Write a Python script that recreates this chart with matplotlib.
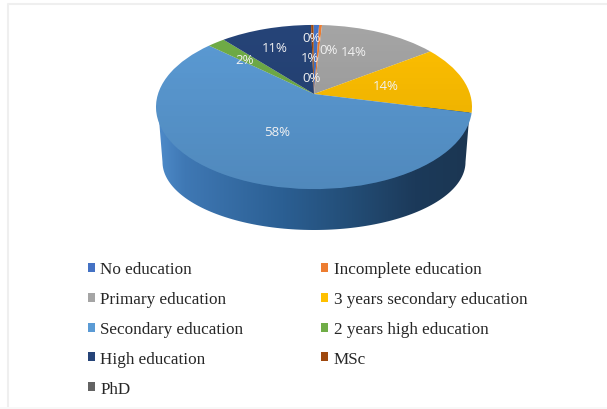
import numpy as np
import matplotlib
matplotlib.use("Agg")
import matplotlib.pyplot as plt
from matplotlib.path import Path
from matplotlib.patches import PathPatch
from matplotlib.transforms import Transform
from matplotlib.colors import LinearSegmentedColormap

categories = ["No education", "Incomplete education", "Primary education",
              "3 years secondary education", "Secondary education",
              "2 years high education", "High education", "MSc", "PhD"]
values = [0.6, 0.35, 14.2, 13.5, 58.0, 2.1, 10.9, 0.3, 0.05]
shown = [1, 0, 14, 14, 58, 2, 11, 0, 0]
colors = ["#4472c4", "#ed7d31", "#a5a5a5", "#ffc000", "#5b9bd5",
          "#70ad47", "#264478", "#9e480e", "#636363"]

W, H = 607, 410
CX, CY = 314.0, 95.0      # apex of the pie on the picture
RX, K, P = 156.0, 80.0, 0.1585   # perspective of the tilted disc


class Tilt(Transform):
    input_dims = output_dims = 2
    is_separable = False
    has_inverse = False

    def transform_non_affine(self, xy):
        xy = np.asarray(xy, float)
        d = 1 + P * xy[:, 1]
        return np.column_stack([CX + RX * xy[:, 0] / d, CY - K * xy[:, 1] / d])


fig = plt.figure(figsize=(W / 100, H / 100), dpi=100, facecolor="white")
ax = fig.add_axes([0, 0, 1, 1])

wedges, _ = ax.pie(values, colors=colors, startangle=90, counterclock=False,
                   wedgeprops=dict(linewidth=0))
ax.set_aspect("auto")
ax.set_xlim(0, W)
ax.set_ylim(H, 0)
ax.axis("off")
tilt = Tilt()
for w in wedges:
    w.set_transform(tilt + ax.transData)
    w.set_zorder(3)

# frame
ax.plot([7.5, 7.5, W], [H, 4.5, 4.5], color="#efefef", lw=1.5, zorder=0)
ax.axhspan(408, 410, color="#f8f8f8", lw=0, zorder=0)

# side wall of the disc, a horizontal gradient clipped to the rim
t = np.linspace(np.pi, 2 * np.pi, 120)
low_x = CX + 151.5 * np.cos(t)
low_y = 163 - 68 * np.sin(t)
wall = np.vstack([[[158, 108], [470, 108]],
                  np.column_stack([low_x, low_y])[::-1],
                  [[158, 108]]])
cmap = LinearSegmentedColormap.from_list(
    "wall", [(0, "#4f8ccb"), (0.09, "#3f78b4"), (0.4, "#2b5f93"),
             (0.62, "#234d76"), (0.82, "#1c3a5a"), (1, "#1b3652")])
img = ax.imshow(np.linspace(0, 1, 256)[None, :], cmap=cmap, aspect="auto",
                extent=(156, 472, 235, 100), zorder=1, interpolation="bilinear")
clip = PathPatch(Path(wall), transform=ax.transData, fc="none", ec="none")
ax.add_patch(clip)
img.set_clip_path(clip)

# soft top-to-bottom shading over the disc
shade = np.zeros((256, 1, 4))
shade[:, 0, 3] = np.linspace(0.0, 0.12, 256)
shade_img = ax.imshow(shade, aspect="auto", extent=(150, 480, 192, 24), zorder=4)
tt = np.linspace(0, 2 * np.pi, 240)
disc = tilt.transform(np.column_stack([np.cos(tt), np.sin(tt)]))
disc_clip = PathPatch(Path(disc), transform=ax.transData, fc="none", ec="none")
ax.add_patch(disc_clip)
shade_img.set_clip_path(disc_clip)
ax.set_xlim(0, W)
ax.set_ylim(H, 0)

# data labels, placed by hand as in the reference
spots = [(310, 58), (329, 50), (354, 52), (386, 86), (277, 133),
         (245, 60), (275, 48), (312, 39), (312, 78)]
for (x, y), v in zip(spots, shown):
    ax.text(x, y, f"{v}%", color="#f2f2f2", fontsize=9.5, family="Open Sans",
            ha="center", va="center", zorder=5)

# legend, filled column by column
order = [0, 2, 4, 6, 8, 1, 3, 5, 7]
leg = ax.legend([wedges[i] for i in order], [categories[i] for i in order],
                ncol=2, loc="upper left", bbox_to_anchor=(87.5 / W, 1 - 262.5 / H),
                bbox_transform=ax.transAxes, frameon=False,
                prop=dict(family="Liberation Serif", size=12.3),
                labelspacing=0.81, handlelength=0.42, handleheight=0.42,
                handletextpad=0.33, columnspacing=4.55, borderpad=0, borderaxespad=0)
for txt in leg.get_texts():
    txt.set_color("#262626")

fig.savefig("out.png", dpi=100, facecolor="white")
